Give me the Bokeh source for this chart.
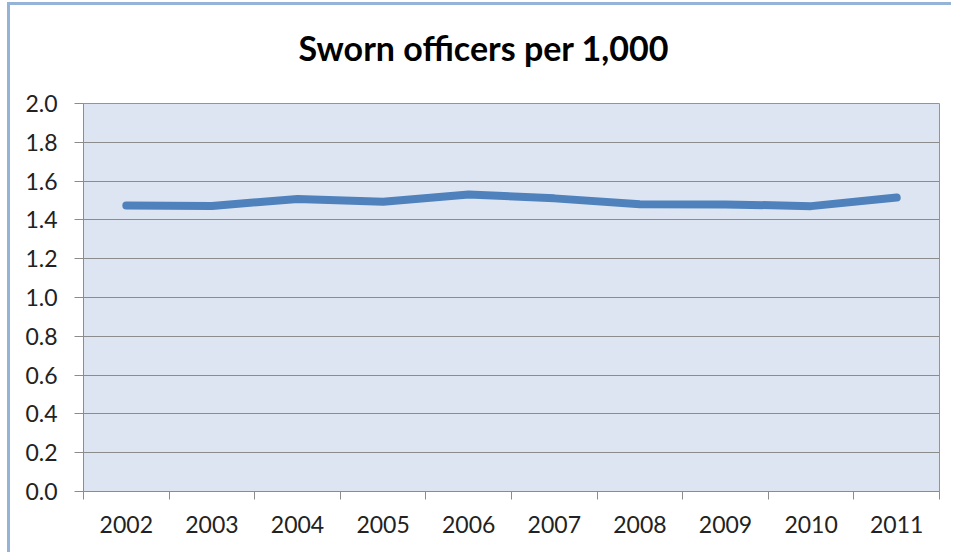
from bokeh.plotting import figure
from bokeh.embed import file_html
from bokeh.resources import INLINE
from bokeh.models import FixedTicker, Range1d, NumeralTickFormatter, ColumnDataSource, Title

title_text = "Sworn officers per 1,000"
years = ["2002", "2003", "2004", "2005", "2006", "2007", "2008", "2009", "2010", "2011"]
officers = [1.474, 1.472, 1.508, 1.493, 1.531, 1.511, 1.481, 1.480, 1.471, 1.515]
y_ticks = [0.0, 0.2, 0.4, 0.6, 0.8, 1.0, 1.2, 1.4, 1.6, 1.8, 2.0]

xs = [i + 0.5 for i in range(len(years))]
src = ColumnDataSource(dict(x=xs, y=officers))

p = figure(width=944, height=550, output_backend="svg", toolbar_location=None, title=None,
           x_range=Range1d(0, len(years)), y_range=Range1d(0, 2.0),
           min_border_left=73, min_border_right=15, min_border_top=98, min_border_bottom=64)

p.background_fill_color = "#DCE5F1"
p.border_fill_color = "white"
p.outline_line_color = "#8C96A3"
p.outline_line_width = 1

# spacer title (closest to the frame), then the real title above it
p.add_layout(Title(text=" ", text_font_size="1px", standoff=18), "above")
p.add_layout(Title(text=title_text, align="left", offset=215, standoff=30,
                   text_font="Lato", text_font_style="bold", text_font_size="34px",
                   text_color="black"), "above")

p.line("x", "y", source=src, line_color="#4F81BD", line_width=8, line_cap="round", line_join="round")

# y axis
p.yaxis.ticker = FixedTicker(ticks=y_ticks)
p.yaxis.formatter = NumeralTickFormatter(format="0.0")
p.yaxis.axis_line_color = "#8C8C8C"
p.yaxis.major_tick_line_color = "#8C8C8C"
p.yaxis.major_tick_out = 9
p.yaxis.major_tick_in = 0
p.yaxis.minor_tick_line_color = None
p.yaxis.major_label_standoff = 17
p.yaxis.major_label_text_font = "Lato"
p.yaxis.major_label_text_font_size = "23px"
p.yaxis.major_label_text_color = "#222222"

# x axis
p.xaxis.ticker = FixedTicker(ticks=xs, minor_ticks=list(range(len(years) + 1)))
p.xaxis.major_label_overrides = {x: y for x, y in zip(xs, years)}
p.xaxis.axis_line_color = "#8C8C8C"
p.xaxis.major_tick_line_color = None
p.xaxis.major_tick_out = 0
p.xaxis.minor_tick_line_color = "#8C8C8C"
p.xaxis.minor_tick_out = 8
p.xaxis.minor_tick_in = 0
p.xaxis.major_label_standoff = 16
p.xaxis.major_label_text_font = "Lato"
p.xaxis.major_label_text_font_size = "23px"
p.xaxis.major_label_text_color = "#222222"

p.xgrid.grid_line_color = None
p.ygrid.ticker = FixedTicker(ticks=y_ticks)
p.ygrid.grid_line_color = "#8C8C8C"
p.ygrid.grid_line_width = 1

p.styles = {"border-top": "3px solid #95B3D7", "border-left": "3px solid #95B3D7",
            "margin-top": "2px", "margin-left": "7px"}

open("out.html", "w").write(file_html(p, INLINE))
